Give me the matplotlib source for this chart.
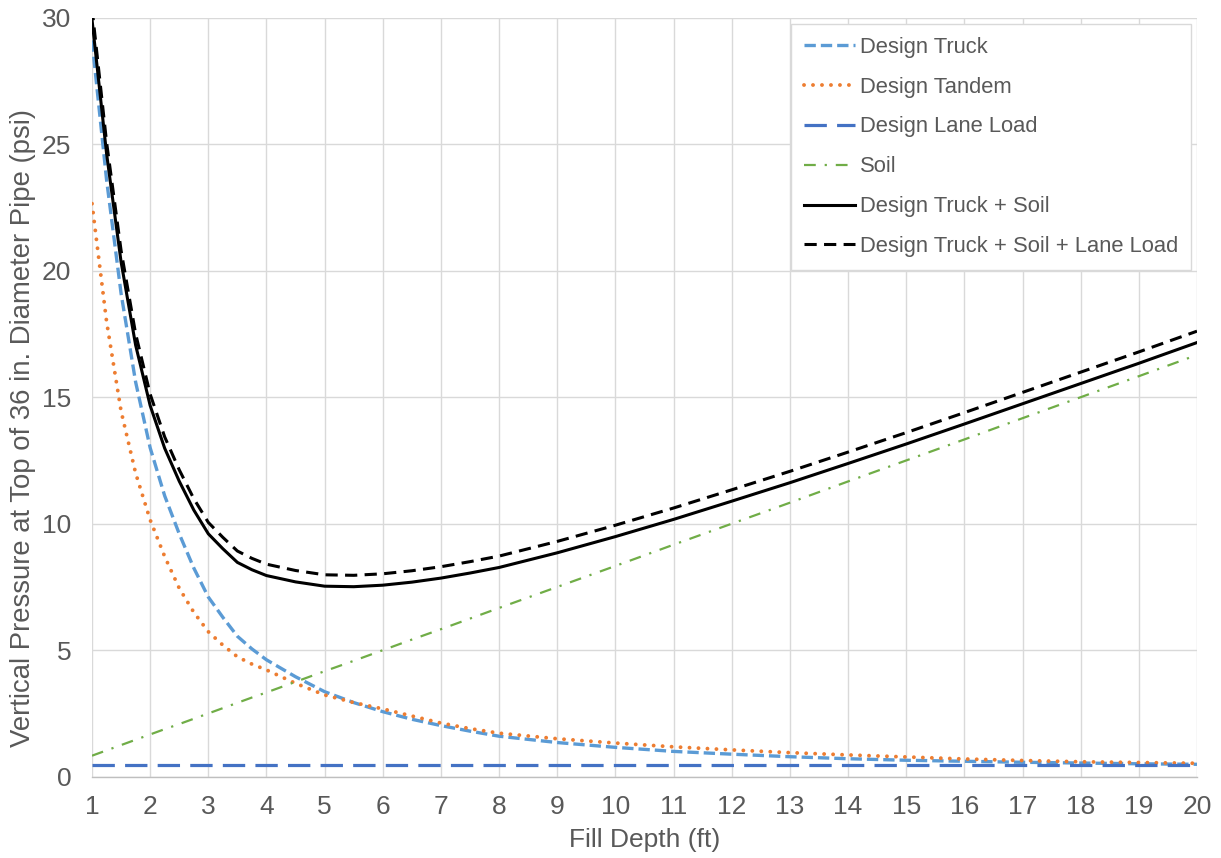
import matplotlib
matplotlib.use("Agg")
import matplotlib.pyplot as plt

plt.rcParams['font.family'] = ['Liberation Sans', 'DejaVu Sans']

# ---- data ----
depth = [1, 1.25, 1.5, 1.75, 2, 2.25, 2.5, 2.75, 3, 3.25, 3.5, 3.75, 4, 4.5, 5, 5.5,
         6, 6.5, 7, 7.5, 8, 9, 10, 11, 12, 13, 14, 15, 16, 17, 18, 19, 20]

design_truck = [29.1, 23.6, 19.1, 15.6, 13.0, 11.1, 9.6, 8.25, 7.1, 6.3, 5.55, 5.05, 4.62,
                3.95, 3.36, 2.93, 2.57, 2.27, 2.02, 1.8, 1.6, 1.35, 1.16, 1.0, 0.89,
                0.79, 0.71, 0.65, 0.61, 0.57, 0.54, 0.51, 0.49]

design_tandem = [22.65, 18.0, 14.45, 12.0, 10.15, 8.7, 7.45, 6.5, 5.73, 5.2, 4.74, 4.45,
                 4.22, 3.69, 3.23, 2.93, 2.68, 2.4, 2.12, 1.9, 1.72, 1.5, 1.33, 1.18,
                 1.06, 0.95, 0.86, 0.78, 0.7, 0.64, 0.59, 0.56, 0.53]

lane_load = [0.45, 0.45, 0.45, 0.45, 0.45, 0.45, 0.45, 0.45, 0.45, 0.45, 0.45, 0.45,
             0.45, 0.45, 0.45, 0.45, 0.45, 0.45, 0.45, 0.45, 0.45, 0.45, 0.45, 0.45,
             0.45, 0.45, 0.45, 0.45, 0.45, 0.45, 0.45, 0.45, 0.45]

soil = [0.83, 1.04, 1.25, 1.46, 1.67, 1.88, 2.08, 2.29, 2.5, 2.71, 2.92, 3.13, 3.33,
        3.75, 4.17, 4.58, 5.0, 5.42, 5.83, 6.25, 6.67, 7.5, 8.33, 9.17, 10.0, 10.83,
        11.67, 12.5, 13.33, 14.17, 15.0, 15.83, 16.67]

truck_soil = [29.93, 24.64, 20.35, 17.06, 14.67, 12.98, 11.68, 10.54, 9.6, 9.01, 8.47,
              8.18, 7.95, 7.7, 7.53, 7.51, 7.57, 7.69, 7.85, 8.05, 8.27, 8.85, 9.49,
              10.17, 10.89, 11.62, 12.38, 13.15, 13.94, 14.74, 15.54, 16.34, 17.16]

truck_soil_lane = [30.38, 25.09, 20.8, 17.51, 15.12, 13.43, 12.13, 10.99, 10.05, 9.46,
                   8.92, 8.63, 8.4, 8.15, 7.98, 7.96, 8.02, 8.14, 8.3, 8.5, 8.72, 9.3,
                   9.94, 10.62, 11.34, 12.07, 12.83, 13.6, 14.39, 15.19, 15.99, 16.79,
                   17.61]

x_ticks = list(range(1, 21))
y_ticks = [0, 5, 10, 15, 20, 25, 30]

TEXT = '#595959'
GRID = '#d9d9d9'
FS_TICK = 19
FS_XLAB = 19
FS_YLAB = 19.8
FS_LEG = 15.8

W, H = 1221, 858
X0, X1, Y0, Y1 = 92, 1197, 776.7, 17.7   # pixel positions of plot area

fig = plt.figure(figsize=(W / 100, H / 100), dpi=100)
ax = fig.add_axes([X0 / W, 1 - Y0 / H, (X1 - X0) / W, (Y0 - Y1) / H])

ax.plot(depth, design_truck, color='#5B9BD5', lw=2.4, dashes=(3.4, 1.5),
        dash_capstyle='butt', label='Design Truck', zorder=3)
ax.plot(depth, design_tandem, color='#ED7D31', lw=2.8, dashes=(0.01, 2.3),
        dash_capstyle='round', label='Design Tandem', zorder=3)
ax.plot(depth, lane_load, color='#4472C4', lw=2.3, dashes=(7, 3.2),
        dash_capstyle='butt', label='Design Lane Load', zorder=3)
ax.plot(depth, soil, color='#70AD47', lw=1.6, dashes=(5.3, 4.0, 1.0, 4.0),
        dash_capstyle='butt', label='Soil', zorder=3)
ax.plot(depth, truck_soil, color='black', lw=2.2, label='Design Truck + Soil', zorder=4)
ax.plot(depth, truck_soil_lane, color='black', lw=2.2, dashes=(4.0, 2.4),
        dash_capstyle='butt', label='Design Truck + Soil + Lane Load', zorder=4)

ax.set_xlim(1, 20)
ax.set_ylim(0, 30)
ax.set_xticks(x_ticks)
ax.set_yticks(y_ticks)
ax.grid(True, color=GRID, lw=1.0, zorder=0)
ax.set_axisbelow(True)
for s in ['top', 'right', 'left']:
    ax.spines[s].set_visible(False)
ax.spines['bottom'].set_color('#bfbfbf')
ax.spines['bottom'].set_linewidth(1.0)
ax.tick_params(axis='both', length=0, labelsize=FS_TICK, labelcolor=TEXT)
ax.tick_params(axis='y', pad=15)
ax.tick_params(axis='x', pad=13.5)

ax.set_xlabel('Fill Depth (ft)', fontsize=FS_XLAB, color=TEXT)
ax.set_ylabel('Vertical Pressure at Top of 36 in. Diameter Pipe (psi)',
              fontsize=FS_YLAB, color=TEXT)
ax.xaxis.set_label_coords(0.5, (Y0 - 828) / (Y0 - Y1))
ax.yaxis.set_label_coords((36 - X0) / (X1 - X0), (Y0 - 428) / (Y0 - Y1))

leg = ax.legend(loc='upper right', bbox_to_anchor=(1191 / W, 1 - 24 / H),
                bbox_transform=fig.transFigure, borderaxespad=0, fontsize=FS_LEG,
                frameon=True, fancybox=False, framealpha=1, edgecolor=GRID,
                handlelength=2.3, handletextpad=0.25, labelspacing=0.86,
                borderpad=0.58)
leg.get_frame().set_linewidth(1.0)
for t in leg.get_texts():
    t.set_color(TEXT)

fig.savefig('out.png', dpi=100)
